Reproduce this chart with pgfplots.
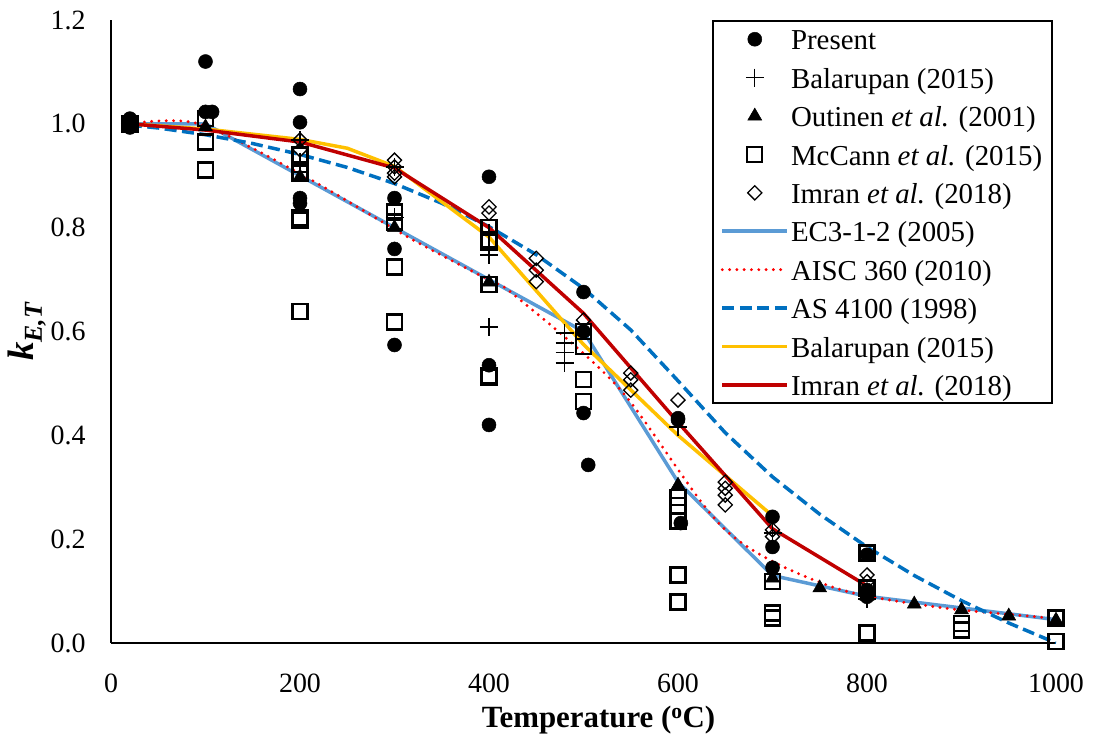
\documentclass[border=0pt]{standalone}
\usepackage{fontspec}
\setmainfont{Liberation Serif}
\usepackage{pgfplots}
\pgfplotsset{compat=1.18}
\definecolor{ecblue}{HTML}{5B9BD5}
\definecolor{asblue}{HTML}{0070C0}
\definecolor{balyel}{HTML}{FFC000}
\definecolor{imrred}{HTML}{C00000}
\begin{document}
\begin{tikzpicture}
\begin{axis}[
  scale only axis, width=945bp, height=623bp,
  xmin=0, xmax=1000, ymin=0, ymax=1.2,
  axis x line*=bottom, axis y line*=left,
  axis line style={line width=2.2bp,-},
  xtick={0,200,400,600,800,1000},
  ytick={0,0.2,0.4,0.6,0.8,1.0,1.2},
  major tick length=0pt,
  /pgf/number format/assume math mode=true,
  x tick label style={/pgf/number format/1000 sep={}, anchor=center, yshift=-40bp, font=\fontsize{28}{32}\selectfont},
  y tick label style={/pgf/number format/.cd, fixed, fixed zerofill, precision=1, /tikz/.cd, anchor=east, xshift=-22bp, font=\fontsize{28}{32}\selectfont},
  xlabel={\textbf{Temperature (\textsuperscript{o}C)}},
  xlabel style={at={(axis description cs:0.5,0)}, anchor=center, yshift=-77bp, xshift=15bp, font=\fontsize{31}{34}\selectfont},
  ylabel={\bfseries\itshape k\textsubscript{E,T}},
  ylabel style={at={(axis description cs:0,0.5)}, anchor=center, yshift=84bp, font=\fontsize{37}{42}\selectfont},
  legend image code/.code={\draw[mark repeat=2,mark phase=2,#1] plot coordinates {(0bp,0bp) (32.5bp,0bp) (65bp,0bp)};},
  legend cell align=left,
  legend style={at={(rel axis cs:0.997,1)}, anchor=north east, draw=black, line width=2bp,
    font=\fontsize{29}{32}\selectfont, inner xsep=8bp, inner ysep=3bp,
    nodes={text height=24bp, text depth=2.5bp, inner ysep=2bp},
    row sep=7.9bp,
    /tikz/every odd column/.append style={column sep=0bp}},
]
% Present
\addplot[only marks, mark=*, mark size=7bp, mark options={fill=black, draw=black, line width=0.5bp}] coordinates {
(20,1.01)(20,0.993)
(100,1.12)(100,1.023)(107,1.023)
(200,1.067)(200,1.003)(200,0.857)(200,0.847)
(300,0.857)(300,0.759)(300,0.574)
(400,0.898)(400,0.535)(400,0.42)
(500,0.676)(500,0.60)(500,0.443)(505,0.343)
(600,0.433)(600,0.43)(603,0.231)
(700,0.243)(700,0.185)(700,0.145)
(800,0.17)(800,0.102)(800,0.089)
};
\addlegendentry{Present}
% Balarupan test
\addplot[only marks, mark=+, mark size=9bp, mark options={draw=black, line width=1.4bp}] coordinates {
(20,1.0)
(200,0.969)(200,0.927)(200,0.907)
(300,0.917)(300,0.82)
(400,0.79)(400,0.757)(400,0.747)(400,0.609)
(480,0.597)(480,0.578)(480,0.559)(480,0.539)
(600,0.416)(700,0.212)(800,0.085)
};
\addlegendentry{Balarupan (2015)}
% Outinen
\addplot[only marks, mark=triangle*, mark size=8bp, mark options={fill=black, draw=black, line width=0.5bp}] coordinates {
(20,1.0)(100,0.994)(200,0.898)(300,0.8)(400,0.695)(500,0.6)(600,0.304)(700,0.125)
(750,0.106)(800,0.09)(850,0.075)(900,0.064)(950,0.052)(1000,0.044)
};
\addlegendentry{Outinen \textit{et al.} (2001)}
% McCann
\addplot[only marks, mark=square, mark size=7.5bp, mark options={draw=black, fill=none, line width=2.4bp}] coordinates {
(20,1.0)
(100,1.01)(100,0.965)(100,0.911)
(200,0.94)(200,0.905)(200,0.82)(200,0.815)(200,0.638)
(300,0.83)(300,0.811)(300,0.724)(300,0.618)
(400,0.80)(400,0.776)(400,0.69)(400,0.512)(400,0.515)
(500,0.60)(500,0.571)(500,0.507)(500,0.465)
(600,0.28)(600,0.265)(600,0.235)(600,0.131)(600,0.079)
(700,0.118)(700,0.058)(700,0.048)
(800,0.173)(800,0.106)(800,0.019)
(900,0.038)(900,0.025)
(1000,0.048)(1000,0.003)
};
\addlegendentry{McCann \textit{et al.} (2015)}
% Imran test
\addplot[only marks, mark=square, mark size=5bp, mark options={draw=black, fill=none, line width=1.3bp, rotate=45}] coordinates {
(20,1.0)
(200,0.969)(200,0.95)
(300,0.93)(300,0.917)(300,0.905)(300,0.898)
(400,0.84)(400,0.828)
(450,0.741)(450,0.718)(450,0.696)
(500,0.622)
(550,0.52)(550,0.507)(550,0.487)
(600,0.468)
(650,0.31)(650,0.298)(650,0.285)(650,0.266)
(700,0.218)(700,0.205)
(800,0.131)(800,0.118)
};
\addlegendentry{Imran \textit{et al.} (2018)}
% EC3
\addplot[ecblue, line width=3.5bp, no marks] coordinates {
(20,1)(100,1)(200,0.9)(300,0.8)(400,0.7)(500,0.6)(600,0.31)(700,0.13)(800,0.09)(900,0.0675)(1000,0.045)
};
\addlegendentry{EC3-1-2 (2005)}
% AISC
\addplot[red, line width=3.2bp, line cap=round, dash pattern=on 0bp off 7.3bp, no marks, smooth, tension=0.5] coordinates {
(20,1)(93,1)(204,0.9)(316,0.78)(399,0.70)(427,0.67)(538,0.49)(649,0.22)(760,0.11)(871,0.07)(982,0.05)(1000,0.046)
};
\addlegendentry{AISC 360 (2010)}
% AS 4100
\addplot[asblue, line width=3.5bp, dash pattern=on 12bp off 5.5bp, no marks] coordinates {
(20,0.9975)(50,0.992)(100,0.979)(150,0.962)(200,0.941)(250,0.916)(300,0.885)(350,0.847)(400,0.802)(450,0.748)(500,0.683)(550,0.603)(600,0.505)(650,0.405)(700,0.320)(750,0.248)(800,0.185)(850,0.130)(900,0.0815)(950,0.0385)(1000,0)
};
\addlegendentry{AS 4100 (1998)}
% Balarupan model
\addplot[balyel, line width=3.5bp, no marks] coordinates {
(20,1.0)(100,0.99)(200,0.97)(250,0.953)(300,0.918)(400,0.782)(500,0.575)(600,0.40)(700,0.245)
};
\addlegendentry{Balarupan (2015)}
% Imran model
\addplot[imrred, line width=3.5bp, no marks] coordinates {
(20,1.0)(100,0.988)(200,0.965)(300,0.915)(400,0.80)(500,0.635)(600,0.425)(700,0.22)(800,0.11)
};
\addlegendentry{Imran \textit{et al.} (2018)}
\coordinate (O) at (rel axis cs:0,0);
\end{axis}
\pgfresetboundingbox
\path (O) ++(-111bp,-97bp) rectangle ++(1093bp,740bp);
\end{tikzpicture}
\end{document}
